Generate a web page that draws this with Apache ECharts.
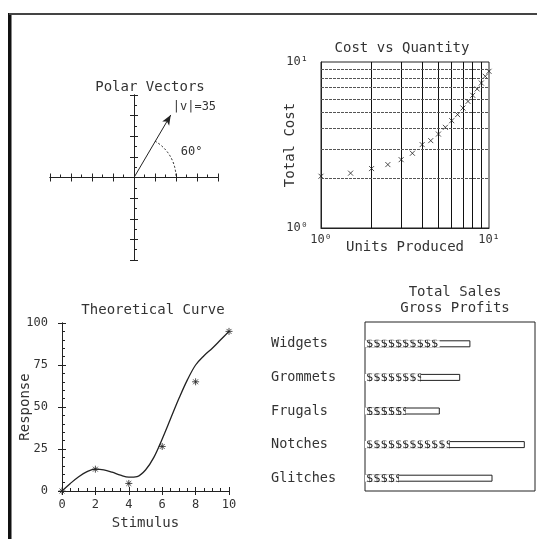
<!DOCTYPE html>
<html>
<head>
<meta charset="utf-8">
<title>Plotter charts</title>
<script src="https://cdn.jsdelivr.net/npm/echarts@6/dist/echarts.min.js"></script>
<style>
html, body { margin: 0; padding: 0; background: #fff; }
#main { width: 537px; height: 539px; }
</style>
</head>
<body>
<div id="main"></div>
<script>
// polar vector
const vecMagnitude = 35
const vecAngle = 60
const arcRadius = 20

// cost vs quantity (log-log)
const units = [1, 1.5, 2, 2.5, 3, 3.5, 4, 4.5, 5, 5.5, 6, 6.5, 7, 7.5, 8, 8.5, 9, 9.5, 10]
const cost = [2.05, 2.14, 2.28, 2.41, 2.58, 2.82, 3.18, 3.36, 3.68, 4.04, 4.43, 4.82, 5.28, 5.79, 6.3, 6.88, 7.47, 8.2, 8.79]
const logGridValues = [2, 3, 4, 5, 6, 7, 8, 9]

// theoretical curve
const curveX = [0, 0.5, 1, 1.5, 2, 2.5, 3, 3.5, 4, 4.5, 5, 5.5, 6, 6.5, 7, 7.5, 8, 8.5, 9, 9.5, 10]
const curveY = [0, 4.5, 8.5, 11.5, 13, 12.6, 11.2, 9.4, 8.2, 8.6, 12.5, 20, 31, 43, 55, 66, 75, 80.5, 85, 90, 95]
const stimulus = [0, 2, 4, 6, 8, 10]
const response = [0, 13, 4.5, 26.5, 65, 95]

// sales bars
const products = ['Widgets', 'Grommets', 'Frugals', 'Notches', 'Glitches']
const totalSales = [62, 56, 44, 94, 75]
const grossProfits = [44, 33, 24, 50, 20]

const FONT = 'DejaVu Sans Mono'
const INK = '#222'
const TXT = '#333'

const ASTERISK = 'path://M5,0L5,10M0,5L10,5M1.5,1.5L8.5,8.5M8.5,1.5L1.5,8.5'
const CROSS = 'path://M0,0L10,10M10,0L0,10'

const chart = echarts.init(document.getElementById('main'))

const titleStyle = { fontFamily: FONT, fontSize: 14, fontWeight: 'normal', color: TXT, lineHeight: 16 }
const nameStyle = { fontFamily: FONT, fontSize: 14, color: TXT }

// crossing ticks = two axes on the same line, one ticking in, one out
function crossAxis(grid, min, max, interval, pos, zeroIdx, inside, minor, extra) {
    return Object.assign({
        type: 'value', gridIndex: grid, min: min, max: max, interval: interval, position: pos,
        axisLine: { onZero: true, onZeroAxisIndex: zeroIdx, lineStyle: { color: INK, width: 1 } },
        axisTick: { show: true, inside: inside, length: 4, lineStyle: { color: INK } },
        minorTick: { show: minor > 0, splitNumber: minor || 5, length: 3, lineStyle: { color: INK } },
        axisLabel: { show: false },
        splitLine: { show: false }
    }, extra || {})
}

const tip = [
    vecMagnitude * Math.cos(vecAngle * Math.PI / 180),
    vecMagnitude * Math.sin(vecAngle * Math.PI / 180)
]

chart.setOption({
    animation: false,
    backgroundColor: '#fff',
    textStyle: { fontFamily: FONT },
    title: [
        { text: 'Polar Vectors', left: 145, top: 74, textAlign: 'center', textStyle: titleStyle },
        { text: 'Cost vs Quantity', left: 397, top: 35, textAlign: 'center', textStyle: titleStyle },
        { text: 'Theoretical Curve', left: 148, top: 297, textAlign: 'center', textStyle: titleStyle },
        { text: 'Total Sales\nGross Profits', left: 450, top: 279, textAlign: 'center', textStyle: titleStyle }
    ],
    graphic: [
        { type: 'rect', shape: { x: 8, y: 13, width: 3.5, height: 526 }, style: { fill: '#111' } },
        { type: 'line', shape: { x1: 9, y1: 14, x2: 537, y2: 14 }, style: { stroke: '#444', lineWidth: 2 } }
    ],
    grid: [
        { left: 50, top: 95, width: 168, height: 165 },
        { left: 321, top: 62, width: 168, height: 166, show: true, borderColor: INK, borderWidth: 1 },
        { left: 62, top: 323, width: 167, height: 168 },
        { left: 365, top: 327, width: 170, height: 168 },
        { left: 365, top: 322, width: 170, height: 169, show: true, borderColor: INK, borderWidth: 1 }
    ],
    xAxis: [
        crossAxis(0, -40, 40, 10, 'bottom', 0, true, 2),
        crossAxis(0, -40, 40, 10, 'bottom', 0, false, 0),
        {
            type: 'log', logBase: 10, gridIndex: 1, min: 1, max: 10,
            name: 'Units Produced', nameLocation: 'middle', nameGap: 12, nameMoveOverlap: false,
            nameTextStyle: nameStyle,
            axisLine: { lineStyle: { color: INK } },
            axisTick: { show: false },
            axisLabel: { margin: 6, fontFamily: FONT, fontSize: 12, color: TXT,
                formatter: v => v <= 1 ? '10⁰' : '10¹' },
            splitLine: { show: false }
        },
        crossAxis(2, 0, 10, 2, 'bottom', 3, true, 4, {
            name: 'Stimulus', nameLocation: 'middle', nameGap: 25, nameMoveOverlap: false,
            nameTextStyle: nameStyle,
            axisLabel: { show: true, margin: 8, fontFamily: FONT, fontSize: 12, color: TXT }
        }),
        crossAxis(2, 0, 10, 2, 'bottom', 3, false, 0),
        { type: 'value', gridIndex: 3, min: 0, max: 100, show: false },
        { type: 'value', gridIndex: 4, min: 0, max: 1, show: false }
    ],
    yAxis: [
        crossAxis(0, -40, 40, 10, 'left', 0, true, 2),
        crossAxis(0, -40, 40, 10, 'left', 0, false, 0),
        {
            type: 'log', logBase: 10, gridIndex: 1, min: 1, max: 10,
            name: 'Total Cost', nameLocation: 'middle', nameGap: 24, nameMoveOverlap: false,
            nameTextStyle: nameStyle,
            axisLine: { lineStyle: { color: INK } },
            axisTick: { show: false },
            axisLabel: { margin: 13, fontFamily: FONT, fontSize: 12, color: TXT,
                formatter: v => v <= 1 ? '10⁰' : '10¹' },
            splitLine: { show: false }
        },
        crossAxis(2, 0, 100, 25, 'left', 3, true, 5, {
            name: 'Response', nameLocation: 'middle', nameGap: 30, nameMoveOverlap: false,
            nameTextStyle: nameStyle,
            axisLabel: { show: true, margin: 14, fontFamily: FONT, fontSize: 12, color: TXT }
        }),
        crossAxis(2, 0, 100, 25, 'left', 3, false, 0),
        {
            type: 'category', gridIndex: 3, data: products, inverse: true,
            axisLine: { show: false }, axisTick: { show: false },
            axisLabel: { align: 'left', margin: 94, fontFamily: FONT, fontSize: 13.5, color: TXT }
        },
        { type: 'value', gridIndex: 4, min: 0, max: 1, show: false }
    ],
    series: [
        {
            // vector angle arc + labels
            type: 'custom', xAxisIndex: 0, yAxisIndex: 0, silent: true,
            data: [[vecAngle, vecMagnitude]],
            renderItem: (params, api) => {
                const ang = api.value(0) * Math.PI / 180
                const c = api.coord([0, 0])
                const r = api.size([arcRadius, 0])[0]
                const lab = api.coord([arcRadius * 1.5 * Math.cos(ang * 0.4), arcRadius * 1.5 * Math.sin(ang * 0.4)])
                const end = api.coord([tip[0], tip[1]])
                return {
                    type: 'group',
                    children: [
                        { type: 'arc', shape: { cx: c[0], cy: c[1], r: r, startAngle: -ang, endAngle: 0, clockwise: true },
                          style: { stroke: INK, fill: null, lineWidth: 1, lineDash: [2, 2] } },
                        { type: 'text', x: lab[0], y: lab[1],
                          style: { text: api.value(0) + '°', fontFamily: FONT, fontSize: 12, fill: TXT, align: 'center', verticalAlign: 'middle' } },
                        { type: 'text', x: end[0] + 2, y: end[1] - 8,
                          style: { text: '|v|=' + api.value(1), fontFamily: FONT, fontSize: 12, fill: TXT, align: 'left', verticalAlign: 'middle' } }
                    ]
                }
            },
            markLine: {
                silent: true, symbol: ['none', 'arrow'], symbolSize: [6, 10],
                label: { show: false },
                lineStyle: { color: INK, width: 1, type: 'solid' },
                data: [[{ coord: [0, 0] }, { coord: tip }]]
            }
        },
        {
            type: 'scatter', xAxisIndex: 2, yAxisIndex: 2,
            data: units.map((u, i) => [u, cost[i]]),
            symbol: CROSS, symbolSize: 5,
            itemStyle: { color: INK, borderColor: INK, borderWidth: 1 },
            markLine: {
                silent: true, symbol: 'none', label: { show: false },
                data: logGridValues.map(v => ({ xAxis: v, lineStyle: { color: '#111', width: 1, type: 'solid' } }))
                    .concat(logGridValues.map(v => ({ yAxis: v, lineStyle: { color: '#555', width: 1, type: [3, 1] } })))
            }
        },
        {
            type: 'line', xAxisIndex: 3, yAxisIndex: 3,
            data: curveX.map((x, i) => [x, curveY[i]]),
            smooth: 0.35, showSymbol: false,
            lineStyle: { color: INK, width: 1.3 }
        },
        {
            type: 'scatter', xAxisIndex: 3, yAxisIndex: 3,
            data: stimulus.map((x, i) => [x, response[i]]),
            symbol: ASTERISK, symbolSize: 7,
            itemStyle: { color: INK, borderColor: INK, borderWidth: 1 }
        },
        {
            name: 'Total Sales', type: 'bar', xAxisIndex: 5, yAxisIndex: 5,
            data: totalSales, barWidth: 7,
            itemStyle: { color: '#fff', borderColor: INK, borderWidth: 1 }
        },
        {
            // gross profits drawn as a run of '$' glyphs from 0 to the value
            name: 'Gross Profits', type: 'custom', xAxisIndex: 5, yAxisIndex: 5, z: 5, silent: true,
            data: grossProfits.map((v, i) => [v, i]),
            encode: { x: 0, y: 1 },
            renderItem: (params, api) => {
                const start = api.coord([0, api.value(1)])
                const end = api.coord([api.value(0), api.value(1)])
                const len = end[0] - start[0]
                const n = Math.max(1, Math.round(len / 7.2))
                return {
                    type: 'group',
                    clipPath: { type: 'rect', shape: { x: start[0], y: start[1] - 4, width: len, height: 8 } },
                    children: [
                        { type: 'rect', shape: { x: start[0], y: start[1] - 3.5, width: len, height: 7 }, style: { fill: '#fff' } },
                        { type: 'text', x: start[0] + 1, y: start[1] + 0.5,
                          style: { text: '$'.repeat(n), fontFamily: FONT, fontSize: 12, fill: INK, verticalAlign: 'middle' } }
                    ]
                }
            }
        }
    ]
})
</script>
</body>
</html>
